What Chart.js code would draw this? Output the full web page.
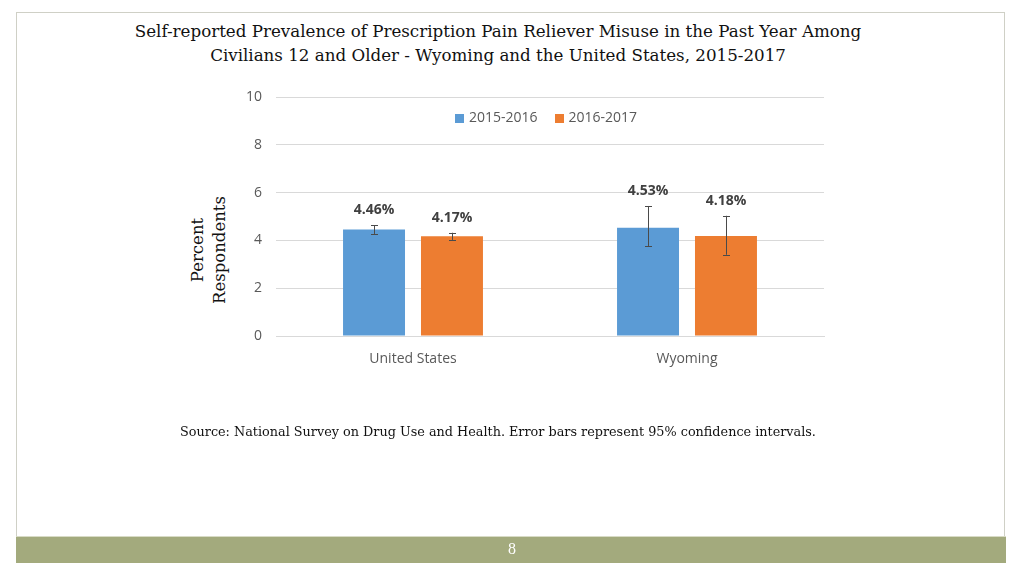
<!DOCTYPE html>
<html>
<head>
<meta charset="utf-8">
<script src="https://cdn.jsdelivr.net/npm/chart.js@4.4.1/dist/chart.umd.min.js"></script>
<style>
  html, body { margin: 0; padding: 0; background: #ffffff; }
  #page { position: relative; width: 1024px; height: 576px; overflow: hidden; background: #fff; }
  #frame { position: absolute; left: 16px; top: 12px; width: 989px; height: 551px; box-sizing: border-box;
           border: 1px solid #cfd0c6; border-bottom: none; }
  #band { position: absolute; left: 16px; top: 536px; width: 990px; height: 27px; background: #a3aa7d;
          border-top: 1px solid #d8dbc6; box-sizing: border-box; }
  #pagenum { position: absolute; left: 0; width: 1024px; top: 540px; text-align: center; color: #ffffff;
             font-family: "Liberation Serif", serif; font-size: 16px; }
  #title { position: absolute; left: 0; width: 996px; top: 19px; text-align: center; color: #111;
           font-family: "DejaVu Serif", serif; font-size: 16.7px; line-height: 24px; }
  #source { position: absolute; left: 0; width: 996px; top: 424px; text-align: center; color: #111;
            font-family: "DejaVu Serif", serif; font-size: 12.8px; }
  #ytitle { position: absolute; left: 209px; top: 250px; width: 200px; text-align: center;
            transform: translate(-50%, -50%) rotate(-90deg); color: #111;
            font-family: "DejaVu Serif", serif; font-size: 16.5px; line-height: 22px; }
  #wrap { position: absolute; left: 0; top: 0; width: 1024px; height: 576px; }
</style>
</head>
<body>
<div id="page">
  <div id="frame"></div>
  <div id="title">Self-reported Prevalence of Prescription Pain Reliever Misuse in the Past Year Among<br>Civilians 12 and Older - Wyoming and the United States, 2015-2017</div>
  <div id="ytitle">Percent<br>Respondents</div>
  <div id="wrap"><canvas id="c" width="1024" height="576"></canvas></div>
  <div id="source">Source: National Survey on Drug Use and Health. Error bars represent 95% confidence intervals.</div>
  <div id="band"></div>
  <div id="pagenum">8</div>
</div>
<script>
// ---- data ----
const categories = ["United States", "Wyoming"];
const seriesNames = ["2015-2016", "2016-2017"];
const values2015_2016 = [4.46, 4.53];
const values2016_2017 = [4.17, 4.18];
const ciLow2015_2016 = [4.27, 3.75];
const ciHigh2015_2016 = [4.63, 5.44];
const ciLow2016_2017 = [4.02, 3.40];
const ciHigh2016_2017 = [4.32, 5.03];
const yTicks = [0, 2, 4, 6, 8, 10];

const colors = ["#5b9bd5", "#ed7d31"];
const labelFont = "14px 'Open Sans', sans-serif";

const errorBarPlugin = {
  id: "errorBars",
  afterDatasetsDraw(chart) {
    const ctx = chart.ctx;
    const y = chart.scales.y;
    const lows = [ciLow2015_2016, ciLow2016_2017];
    const highs = [ciHigh2015_2016, ciHigh2016_2017];
    ctx.save();
    chart.data.datasets.forEach((ds, di) => {
      const meta = chart.getDatasetMeta(di);
      meta.data.forEach((bar, i) => {
        const x = Math.round(bar.x);
        const yl = y.getPixelForValue(lows[di][i]);
        const yh = y.getPixelForValue(highs[di][i]);
        ctx.strokeStyle = "#4a4a4a";
        ctx.lineWidth = 1;
        ctx.beginPath();
        ctx.moveTo(x + 0.5, yh);
        ctx.lineTo(x + 0.5, yl);
        ctx.moveTo(x - 3, Math.round(yh) + 0.5);
        ctx.lineTo(x + 4, Math.round(yh) + 0.5);
        ctx.moveTo(x - 3, Math.round(yl) + 0.5);
        ctx.lineTo(x + 4, Math.round(yl) + 0.5);
        ctx.stroke();
        ctx.fillStyle = "#404040";
        ctx.font = "bold 14px 'Open Sans', sans-serif";
        ctx.textAlign = "center";
        ctx.textBaseline = "middle";
        ctx.fillText(ds.data[i].toFixed(2) + "%", bar.x, yh - 15);
      });
    });
    ctx.restore();
  }
};

// legend drawn inside the plot area, near the top, centred
const innerLegendPlugin = {
  id: "innerLegend",
  afterDraw(chart) {
    const ctx = chart.ctx;
    const area = chart.chartArea;
    ctx.save();
    ctx.font = labelFont;
    ctx.textBaseline = "middle";
    ctx.textAlign = "left";
    const box = 9, gapBox = 5, gapItem = 17;
    const items = chart.data.datasets.map(ds => ({ text: ds.label, color: ds.backgroundColor }));
    let total = 0;
    items.forEach((it, i) => {
      it.w = box + gapBox + ctx.measureText(it.text).width;
      total += it.w + (i ? gapItem : 0);
    });
    let x = (area.left + area.right) / 2 - total / 2 - 4;
    const cy = area.top + 21;
    items.forEach(it => {
      ctx.fillStyle = it.color;
      ctx.fillRect(Math.round(x), Math.round(cy - box / 2), box, box);
      ctx.fillStyle = "#595959";
      ctx.fillText(it.text, x + box + gapBox, cy);
      x += it.w + gapItem;
    });
    ctx.restore();
  }
};

new Chart(document.getElementById("c"), {
  type: "bar",
  data: {
    labels: categories,
    datasets: [
      { label: seriesNames[0], data: values2015_2016, backgroundColor: colors[0] },
      { label: seriesNames[1], data: values2016_2017, backgroundColor: colors[1] }
    ]
  },
  options: {
    responsive: false,
    animation: false,
    devicePixelRatio: 1,
    layout: { padding: { left: 226, right: 200, top: 97, bottom: 208 } },
    datasets: { bar: { categoryPercentage: 0.569, barPercentage: 0.795 } },
    plugins: {
      legend: { display: false },
      tooltip: { enabled: false }
    },
    scales: {
      x: {
        grid: { display: false, drawTicks: false },
        border: { display: true, color: "#d9d9d9" },
        ticks: { color: "#595959", font: { family: "'Open Sans', sans-serif", size: 14 }, padding: 15 },
        afterFit(s) { s.height = 32; }
      },
      y: {
        min: 0, max: 10,
        afterBuildTicks(s) { s.ticks = yTicks.map(v => ({ value: v })); },
        grid: { color: "#d9d9d9", drawTicks: false },
        border: { display: false },
        ticks: { color: "#595959", font: { family: "'Open Sans', sans-serif", size: 14 }, padding: 14 },
        afterFit(s) { s.width = 50; }
      }
    }
  },
  plugins: [errorBarPlugin, innerLegendPlugin]
});
</script>
</body>
</html>
